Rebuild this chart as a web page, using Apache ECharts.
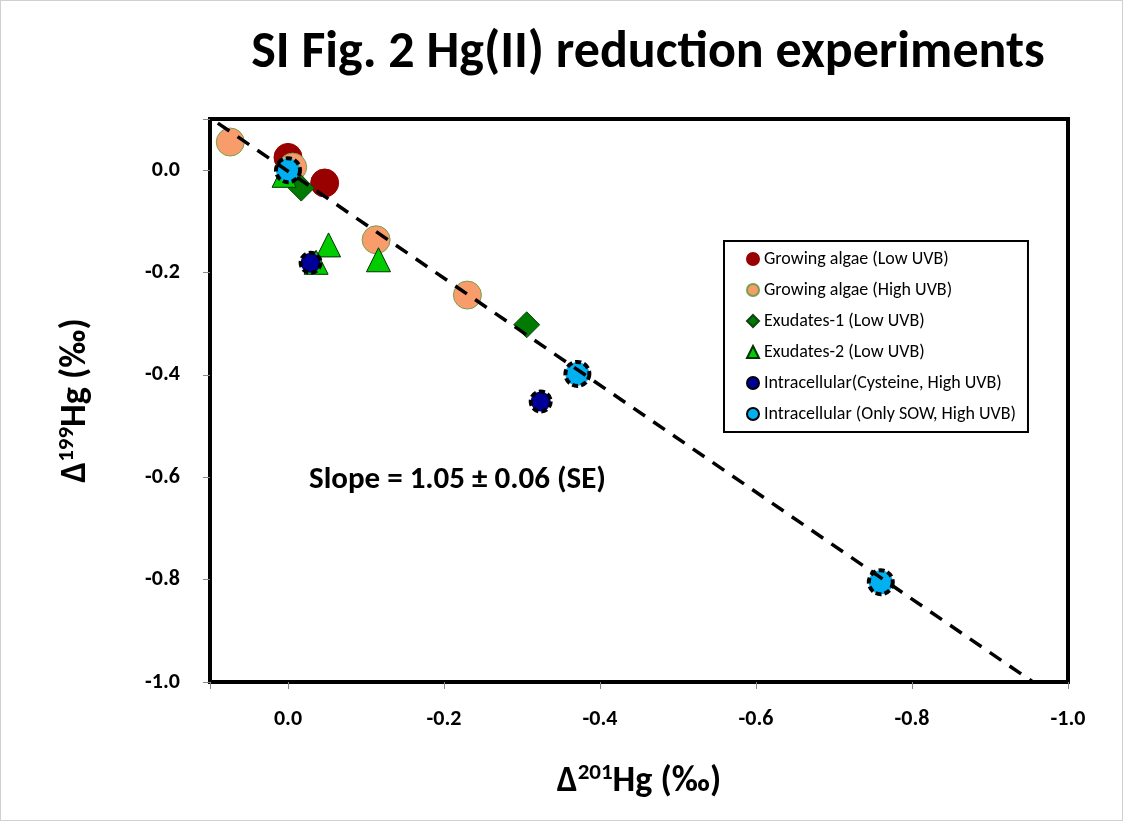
<!DOCTYPE html>
<html>
<head>
<meta charset="utf-8">
<script src="https://cdn.jsdelivr.net/npm/echarts@6/dist/echarts.min.js"></script>
<style>
html, body { margin: 0; padding: 0; background: #fff; }
#chart { width: 1123px; height: 821px; box-sizing: border-box; border: 1px solid #d0d0d0; }
</style>
</head>
<body>
<div id="chart"></div>
<script>
const growingLow = [[0.0, 0.025], [-0.047, -0.025]];
const growingHigh = [[0.074, 0.055], [-0.006, 0.006], [-0.113, -0.136], [-0.230, -0.244]];
const exudates1 = [[-0.017, -0.035], [-0.306, -0.302]];
const exudates2 = [[0.005, -0.01], [-0.052, -0.146], [-0.036, -0.18], [-0.116, -0.175]];
const intraCys = [[-0.029, -0.181], [-0.324, -0.452]];
const intraSow = [[0.0, 0.0], [-0.371, -0.398], [-0.760, -0.805]];
const fitLine = [[0.09, 0.092], [-0.955, -1.0]];
const xTicks = [0.0, -0.2, -0.4, -0.6, -0.8, -1.0];

const chart = echarts.init(document.getElementById('chart'));
const font = 'Calibri, Carlito, "Open Sans", sans-serif';

function scatter(name, data, symbol, size, color, border, extra) {
    return {
        name: name, type: 'scatter', data: data, symbol: symbol, symbolSize: size,
        itemStyle: Object.assign({ color: color, borderColor: border, borderWidth: 1, opacity: 1 }, extra || {}),
        z: 3
    };
}

const richName = {
    b: { fontFamily: font, fontSize: 36, fontWeight: 'bold', color: '#000' },
    s: { fontFamily: font, fontSize: 23, fontWeight: 'bold', color: '#000', verticalAlign: 'top', padding: [0, 0, 16, 0] }
};

chart.setOption({
    animation: false,
    title: {
        text: 'SI Fig. 2 Hg(II) reduction experiments',
        left: 642, top: 22, textAlign: 'center',
        textStyle: { fontFamily: font, fontSize: 52, fontWeight: 'bold', color: '#000' }
    },
    grid: { left: 209, right: 1123 - 1069, top: 118, bottom: 821 - 683, show: true, borderColor: '#000', borderWidth: 4, backgroundColor: '#fff' },
    legend: {
        orient: 'vertical', left: 723, top: 240, itemGap: 13, itemWidth: 12, itemHeight: 12,
        backgroundColor: '#fff', borderColor: '#000', borderWidth: 2, padding: [9, 12, 9, 22],
        textStyle: { fontFamily: font, fontSize: 18, color: '#000' },
        data: ['Growing algae (Low UVB)', 'Growing algae (High UVB)', 'Exudates-1 (Low UVB)', 'Exudates-2 (Low UVB)', 'Intracellular(Cysteine, High UVB)', 'Intracellular (Only SOW, High UVB)']
    },
    xAxis: {
        type: 'value', inverse: true, min: -1.0, max: 0.1, interval: 0.2,
        name: '{b|Δ}{s|201}{b|Hg (‰)}', nameLocation: 'middle', nameGap: 80,
        nameTextStyle: { rich: richName },
        splitLine: { show: false },
        axisLine: { show: false, onZero: false },
        axisTick: { show: true, length: 7, lineStyle: { color: '#888' } },
        axisLabel: {
            fontFamily: font, fontSize: 22, fontWeight: 'bold', color: '#000', margin: 26,
            formatter: function (v) { return xTicks.some(t => Math.abs(t - v) < 1e-6) ? v.toFixed(1) : ''; }
        }
    },
    yAxis: {
        type: 'value', min: -1.0, max: 0.1, interval: 0.2,
        name: '{b|Δ}{s|199}{b|Hg (‰)}', nameLocation: 'middle', nameGap: 115, nameRotate: 90,
        nameTextStyle: { rich: richName },
        splitLine: { show: false },
        axisLine: { show: false, onZero: false },
        axisTick: { show: true, length: 7, lineStyle: { color: '#888' } },
        axisLabel: {
            fontFamily: font, fontSize: 22, fontWeight: 'bold', color: '#000', margin: 30,
            formatter: function (v) { return v > 0.05 ? '' : v.toFixed(1); }
        }
    },
    graphic: [{
        type: 'text', left: 308, top: 464,
        style: { text: 'Slope = 1.05 ± 0.06 (SE)', fontFamily: font, fontSize: 31, fontWeight: 'bold', fill: '#000' }
    }],
    series: [
        {
            name: 'fit', type: 'line', data: fitLine, symbol: 'none', silent: true, z: 4,
            lineStyle: { color: '#000', width: 3.5, type: [14, 10] }
        },
        scatter('Growing algae (Low UVB)', growingLow, 'circle', 28, '#990000', '#990000'),
        scatter('Growing algae (High UVB)', growingHigh, 'circle', 28, '#f79c6a', '#77a050'),
        scatter('Exudates-1 (Low UVB)', exudates1, 'diamond', 26, '#007a00', '#114411'),
        scatter('Exudates-2 (Low UVB)', exudates2, 'triangle', 24, '#00cc00', '#003300'),
        scatter('Intracellular(Cysteine, High UVB)', intraCys, 'circle', 20, '#000099', '#000', { borderWidth: 4, borderType: [6, 3] }),
        scatter('Intracellular (Only SOW, High UVB)', intraSow, 'circle', 24, '#00b0f0', '#000', { borderWidth: 4, borderType: [6, 3] })
    ]
});
</script>
</body>
</html>
